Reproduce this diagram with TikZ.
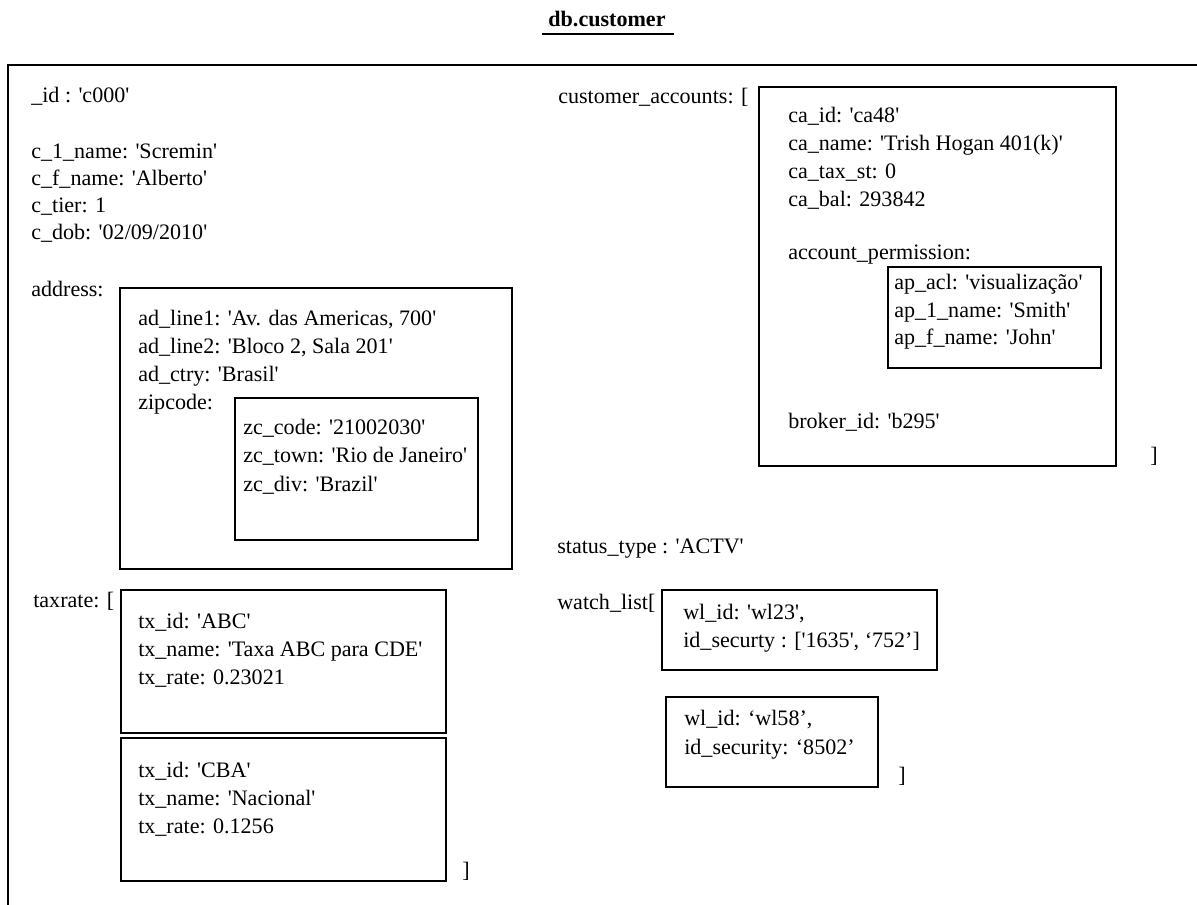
\documentclass[tikz,border=0pt]{standalone}
\usepackage{fontspec}
\setmainfont{Liberation Serif}[Ligatures=TeXOff]
\newcommand{\fieldfont}{\fontsize{15.7}{19.6}\selectfont}

\tikzset{
  field/.style={anchor=base west, inner sep=0pt, font=\fieldfont},
  docbox/.style={draw, line width=0.8pt},
}

\begin{document}
\begin{tikzpicture}[x=0.025cm, y=-0.025cm]
  \useasboundingbox (0,0) rectangle (1197,905);
  % title
  \node[field, anchor=base, font=\fieldfont\bfseries] (title) at (607,27) {db.customer};
  \draw[line width=1.1pt] (542,34) -- (674,34);
  % outer document frame (cut off at the right and bottom)
  \draw[line width=1pt] (8,905) -- (8,65) -- (1197,65);

  % top level fields
  \node[field] (id) at (31,103) {\_id : 'c000'};
  \foreach \t [count=\i from 0] in {{c\_1\_name: 'Scremin'}, {c\_f\_name: 'Alberto'}, {c\_tier: 1}, {c\_dob: '02/09/2010'}}
    \node[field] (cust\i) at (31,159+27*\i) {\t};

  % address
  \node[field] (address) at (31,297) {address:};
  \draw[docbox] (120,288) rectangle (512,569);
  \foreach \t [count=\i from 0] in {{ad\_line1: 'Av. das Americas, 700'}, {ad\_line2: 'Bloco 2, Sala 201'}, {ad\_ctry: 'Brasil'}, {zipcode:}}
    \node[field] (ad\i) at (138,326+28*\i) {\t};
  \draw[docbox] (235,398) rectangle (478,540);
  \foreach \t [count=\i from 0] in {{zc\_code: '21002030'}, {zc\_town: 'Rio de Janeiro'}, {zc\_div: 'Brazil'}}
    \node[field] (zc\i) at (243,435+28*\i) {\t};

  % taxrate
  \node[field] (taxrate) at (33,607) {taxrate: [};
  \draw[docbox] (121,590) rectangle (446,733);
  \foreach \t [count=\i from 0] in {{tx\_id: 'ABC'}, {tx\_name: 'Taxa ABC para CDE'}, {tx\_rate: 0.23021}}
    \node[field] (txa\i) at (138,628+28*\i) {\t};
  \draw[docbox] (121,738) rectangle (446,881);
  \foreach \t [count=\i from 0] in {{tx\_id: 'CBA'}, {tx\_name: 'Nacional'}, {tx\_rate: 0.1256}}
    \node[field] (txb\i) at (138,777+28*\i) {\t};
  \node[field] (taxend) at (462,877) {]};

  % customer accounts
  \node[field] (accounts) at (558,104) {customer\_accounts: [};
  \draw[docbox] (759,87) rectangle (1116,466);
  \foreach \t [count=\i from 0] in {{ca\_id: 'ca48'}, {ca\_name: 'Trish Hogan 401(k)'}, {ca\_tax\_st: 0}, {ca\_bal: 293842}}
    \node[field] (ca\i) at (788,123+28*\i) {\t};
  \node[field] (perm) at (788,260) {account\_permission:};
  \draw[docbox] (888,267) rectangle (1101,368);
  \foreach \t [count=\i from 0] in {{ap\_acl: 'visualização'}, {ap\_1\_name: 'Smith'}, {ap\_f\_name: 'John'}}
    \node[field] (ap\i) at (894,290+27.5*\i) {\t};
  \node[field] (broker) at (788,429) {broker\_id: 'b295'};
  \node[field] (accend) at (1150,462) {]};

  % status and watch list
  \node[field] (status) at (557,553) {status\_type : 'ACTV'};
  \node[field] (watch) at (557,609) {watch\_list[};
  \draw[docbox] (662,590) rectangle (937,670);
  \node[field] (wla0) at (683,619) {wl\_id: 'wl23',};
  \node[field] (wla1) at (683,647) {id\_securty : ['1635', ‘752’]};
  \draw[docbox] (666,697) rectangle (878,787);
  \node[field] (wlb0) at (684,725) {wl\_id: ‘wl58’,};
  \node[field] (wlb1) at (684,754) {id\_security: ‘8502’};
  \node[field] (watchend) at (898,782) {]};
\end{tikzpicture}
\end{document}
